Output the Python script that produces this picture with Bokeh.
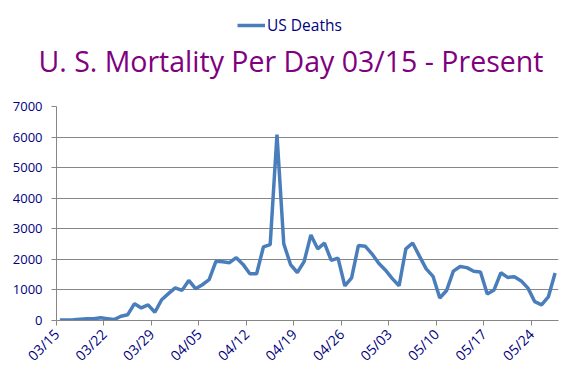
import math
from bokeh.plotting import figure
from bokeh.layouts import column
from bokeh.models import Legend, LegendItem, FixedTicker, Range1d, ColumnDataSource, Title
from bokeh.embed import file_html
from bokeh.resources import INLINE

# Days since 03/15 (index) and matching date labels
day_labels = ["03/15", "03/16", "03/17", "03/18", "03/19", "03/20", "03/21",
              "03/22", "03/23", "03/24", "03/25", "03/26", "03/27", "03/28",
              "03/29", "03/30", "03/31", "04/01", "04/02", "04/03", "04/04",
              "04/05", "04/06", "04/07", "04/08", "04/09", "04/10", "04/11",
              "04/12", "04/13", "04/14", "04/15", "04/16", "04/17", "04/18",
              "04/19", "04/20", "04/21", "04/22", "04/23", "04/24", "04/25",
              "04/26", "04/27", "04/28", "04/29", "04/30", "05/01", "05/02",
              "05/03", "05/04", "05/05", "05/06", "05/07", "05/08", "05/09",
              "05/10", "05/11", "05/12", "05/13", "05/14", "05/15", "05/16",
              "05/17", "05/18", "05/19", "05/20", "05/21", "05/22", "05/23",
              "05/24", "05/25", "05/26", "05/27"]

us_deaths = [20, 20, 25, 40, 55, 55, 90, 60, 30, 140, 190, 550, 410, 510,
             270, 680, 880, 1065, 985, 1310, 1040, 1170, 1335, 1935, 1925, 1890,
             2055, 1835, 1530, 1530, 2405, 2485, 6080, 2510, 1830, 1570, 1925,
             2800, 2345, 2530, 1965, 2040, 1135, 1395, 2450, 2430, 2180, 1870,
             1645, 1370, 1135, 2345, 2535, 2105, 1690, 1445, 735, 980, 1615,
             1765, 1730, 1610, 1590, 870, 1000, 1560, 1410, 1430, 1295, 1060,
             615, 510, 770, 1555]

tick_labels = ["03/15", "03/22", "03/29", "04/05", "04/12", "04/19",
               "04/26", "05/03", "05/10", "05/17", "05/24"]
y_ticks = [0, 1000, 2000, 3000, 4000, 5000, 6000, 7000]

series_name = "US Deaths"
title_text = "U. S. Mortality Per Day 03/15 - Present"

x_index = list(range(len(us_deaths)))
src = ColumnDataSource(data=dict(x=x_index, y=us_deaths))

TEXT = "#000080"
GRID = "#868686"
LINE = "#4A7EBB"
FONT = "Open Sans"

# ---- header: legend (in its frame) and chart title (below its frame) ----
head = figure(width=580, height=90, output_backend="svg", toolbar_location=None,
              x_axis_type=None, y_axis_type=None, x_range=Range1d(0, 1),
              y_range=Range1d(-2, -1), min_border_left=0, min_border_right=0,
              min_border_top=0, min_border_bottom=52)
head.outline_line_color = None
head.xgrid.grid_line_color = None
head.ygrid.grid_line_color = None
key = head.line("x", "y", source=src, line_color=LINE, line_width=3.5)
legend = Legend(items=[LegendItem(label=series_name, renderers=[key])],
                location=(181, 2), orientation="horizontal",
                border_line_color=None, background_fill_alpha=0,
                label_text_color=TEXT, label_text_font=FONT,
                label_text_font_size="15.5px", glyph_width=28, glyph_height=14,
                label_standoff=2, padding=0, margin=0)
head.add_layout(legend, "center")
head.add_layout(Title(text=title_text, align="left", offset=-18,
                      vertical_align="top", standoff=7,
                      text_color="#800080", text_font=FONT,
                      text_font_size="28.5px", text_font_style="normal"),
                "below")

# ---- main chart ----
p = figure(width=580, height=299, output_backend="svg", toolbar_location=None,
           x_range=Range1d(-0.5, len(us_deaths) - 0.5), y_range=Range1d(0, 7000),
           min_border_left=56, min_border_right=22, min_border_top=16,
           min_border_bottom=69)
p.outline_line_color = None

p.line("x", "y", source=src, line_color=LINE, line_width=3.5)

# ticks at the start of each weekly slot
tick_pos = [day_labels.index(t) - 0.5 for t in tick_labels]
p.xaxis.ticker = FixedTicker(ticks=tick_pos)
p.xaxis.major_label_overrides = {tp: t for tp, t in zip(tick_pos, tick_labels)}
p.xaxis.major_label_orientation = math.pi / 4
p.yaxis.ticker = FixedTicker(ticks=y_ticks)

for ax in (p.xaxis[0], p.yaxis[0]):
    ax.axis_line_color = GRID
    ax.major_tick_line_color = GRID
    ax.minor_tick_line_color = None
    ax.major_tick_in = 0
    ax.major_tick_out = 5
    ax.major_label_text_color = TEXT
    ax.major_label_text_font = FONT
    ax.major_label_text_font_size = "13px"
p.xaxis.major_label_text_font_size = "14px"
p.yaxis.major_label_standoff = 9
p.xaxis.major_label_standoff = 6

p.xgrid.grid_line_color = None
p.ygrid.grid_line_color = GRID
p.ygrid.grid_line_width = 1

open("out.html", "w").write(file_html(column(head, p, spacing=0), INLINE))
